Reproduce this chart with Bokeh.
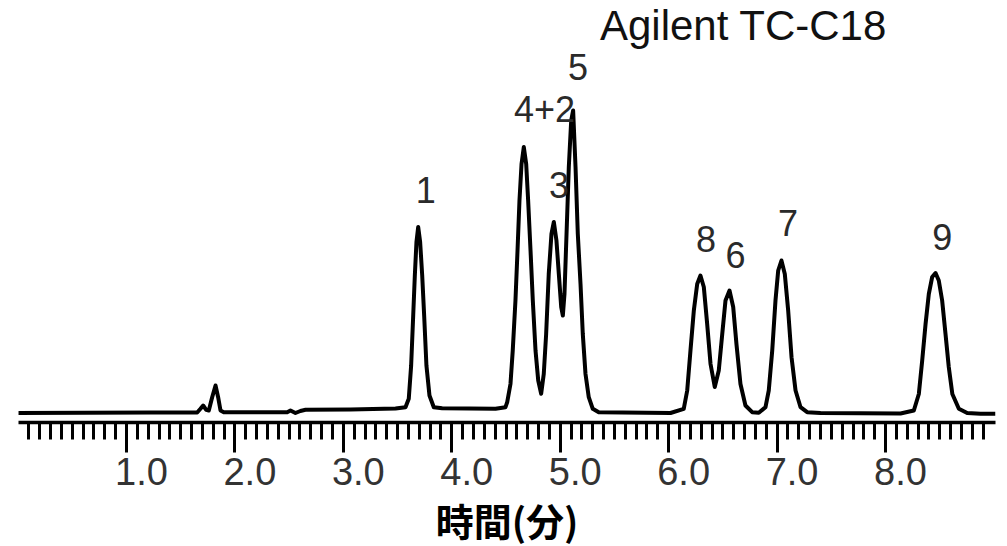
from bokeh.plotting import figure
from bokeh.models import Range1d, LinearAxis, FixedTicker, ColumnDataSource, Label
from bokeh.core.properties import value
from bokeh.embed import file_html
from bokeh.resources import INLINE

# chromatogram trace (time in minutes, signal in arbitrary units)
time_min = [0.000, 1.221, 1.652, 1.682, 1.707, 1.735, 1.759, 1.790, 1.821, 1.845, 1.867, 1.897,
            2.482, 2.512, 2.558, 2.604, 2.651, 3.066, 3.481, 3.573, 3.603, 3.625, 3.644, 3.659,
            3.674, 3.690, 3.708, 3.727, 3.745, 3.766, 3.794, 3.834, 3.911, 4.403, 4.495, 4.511,
            4.541, 4.562, 4.587, 4.606, 4.624, 4.643, 4.664, 4.686, 4.704, 4.726, 4.747, 4.772,
            4.797, 4.824, 4.848, 4.870, 4.894, 4.919, 4.941, 4.965, 4.987, 5.009, 5.024, 5.039,
            5.058, 5.079, 5.101, 5.119, 5.141, 5.162, 5.187, 5.208, 5.233, 5.263, 5.300, 5.355,
            6.017, 6.139, 6.171, 6.201, 6.232, 6.263, 6.293, 6.324, 6.355, 6.386, 6.425, 6.462,
            6.494, 6.524, 6.561, 6.595, 6.625, 6.662, 6.708, 6.770, 6.831, 6.893, 6.923, 6.955,
            6.985, 7.010, 7.040, 7.071, 7.102, 7.133, 7.170, 7.216, 7.277, 7.400, 8.138, 8.261,
            8.307, 8.338, 8.369, 8.399, 8.430, 8.461, 8.491, 8.522, 8.553, 8.583, 8.616, 8.676,
            8.753, 8.876, 9.014]
signal = [0.0, 0.5, 0.5, 4.2, 7.5, 3.2, 2.5, 15.8, 27.5, 15.8, 2.5, 0.8,
          0.8, 2.5, 0.0, 2.0, 3.2, 3.5, 4.5, 5.8, 14.2, 47.5, 97.5, 137.5,
          171.0, 186.0, 171.0, 137.5, 97.5, 47.5, 17.5, 5.8, 4.8, 4.2, 5.8, 10.8,
          29.0, 62.5, 112.5, 162.5, 212.5, 249.0, 266.0, 249.0, 212.5, 162.5, 112.5, 62.5,
          32.5, 19.2, 39.0, 79.0, 139.0, 179.0, 191.0, 172.5, 139.0, 106.0, 97.5, 119.0,
          179.0, 246.0, 292.5, 302.5, 246.0, 179.0, 129.0, 79.0, 39.0, 15.8, 4.2, 0.8,
          0.0, 4.2, 22.5, 62.5, 102.5, 129.0, 137.5, 126.0, 89.0, 49.0, 26.0, 42.5,
          79.0, 112.5, 122.5, 106.0, 69.0, 29.0, 7.5, 0.8, 0.2, 5.8, 22.5, 62.5,
          112.5, 142.5, 152.5, 139.0, 102.5, 55.8, 22.5, 5.8, 0.8, 0.0, -0.5, 2.5,
          19.0, 52.5, 89.0, 119.0, 136.0, 140.0, 132.5, 112.5, 79.0, 46.0, 19.0, 4.2,
          0.0, -0.8, -0.8]

# peak labels
peak_names = ["1", "4+2", "3", "5", "8", "6", "7", "9"]
label_time = [3.760, 4.855, 4.988, 5.164, 6.344, 6.616, 7.100, 8.522]
label_height = [223.5, 303.8, 228.5, 346.5, 174.0, 158.5, 190.5, 176.5]

# axis ticks
major_ticks = [0, 1, 2, 3, 4, 5, 6, 7, 8]
minor_ticks = [round(i * 0.1, 1) for i in range(1, 90) if i % 10 != 0]
tick_values = [1, 2, 3, 4, 5, 6, 7, 8]
tick_labels = ["1.0", "2.0", "3.0", "4.0", "5.0", "6.0", "7.0", "8.0"]

chart_title = "Agilent TC-C18"
x_title = "時間(分)"

x_start, x_end = 0.004, 9.014
label_shift = 0.138

p = figure(frame_width=977, frame_height=422, output_backend="svg", toolbar_location=None,
           x_range=Range1d(x_start, x_end), y_range=Range1d(-9.5, 412.5),
           x_axis_location=None, y_axis_location=None,
           min_border_left=18, min_border_right=12, min_border_top=0, min_border_bottom=0,
           background_fill_color="white", border_fill_color="white")
p.outline_line_color = None
p.grid.grid_line_color = None

p.line(time_min, signal, line_color="black", line_width=4, line_join="round")

src = ColumnDataSource(dict(t=label_time, h=label_height, name=peak_names))
p.text(x="t", y="h", text="name", source=src, text_align="center", text_baseline="alphabetic",
       text_font=value("Liberation Sans"), text_font_size="36px", text_color="#2a2a2a")

p.add_layout(Label(x=6.69, y=388.0, text=chart_title, text_align="center", text_baseline="alphabetic",
                   text_font="Liberation Sans", text_font_size="42px", text_color="#111111"))

tick_axis = LinearAxis(ticker=FixedTicker(ticks=major_ticks, minor_ticks=minor_ticks),
                       major_label_text_font_size="1px", major_label_text_color=None,
                       major_label_standoff=0,
                       axis_line_width=3.5, axis_line_color="black",
                       major_tick_line_width=3, minor_tick_line_width=3,
                       major_tick_line_color="black", minor_tick_line_color="black",
                       major_tick_in=0, major_tick_out=30, minor_tick_in=0, minor_tick_out=17)
p.add_layout(tick_axis, "below")

p.extra_x_ranges = {"lab": Range1d(x_start - label_shift, x_end - label_shift)}
label_axis = LinearAxis(x_range_name="lab",
                        ticker=FixedTicker(ticks=tick_values, minor_ticks=[]),
                        major_label_overrides={float(v): s for v, s in zip(tick_values, tick_labels)},
                        axis_line_color=None, major_tick_line_color=None, minor_tick_line_color=None,
                        major_tick_in=0, major_tick_out=0, minor_tick_in=0, minor_tick_out=0,
                        major_label_text_font="Liberation Sans", major_label_text_font_size="38px",
                        major_label_text_color="#333333", major_label_standoff=5,
                        axis_label=x_title, axis_label_text_font="Noto Sans CJK JP",
                        axis_label_text_font_style="bold", axis_label_text_font_size="38px",
                        axis_label_text_color="black", axis_label_standoff=4)
p.add_layout(label_axis, "below")

open("out.html", "w").write(file_html(p, INLINE))
